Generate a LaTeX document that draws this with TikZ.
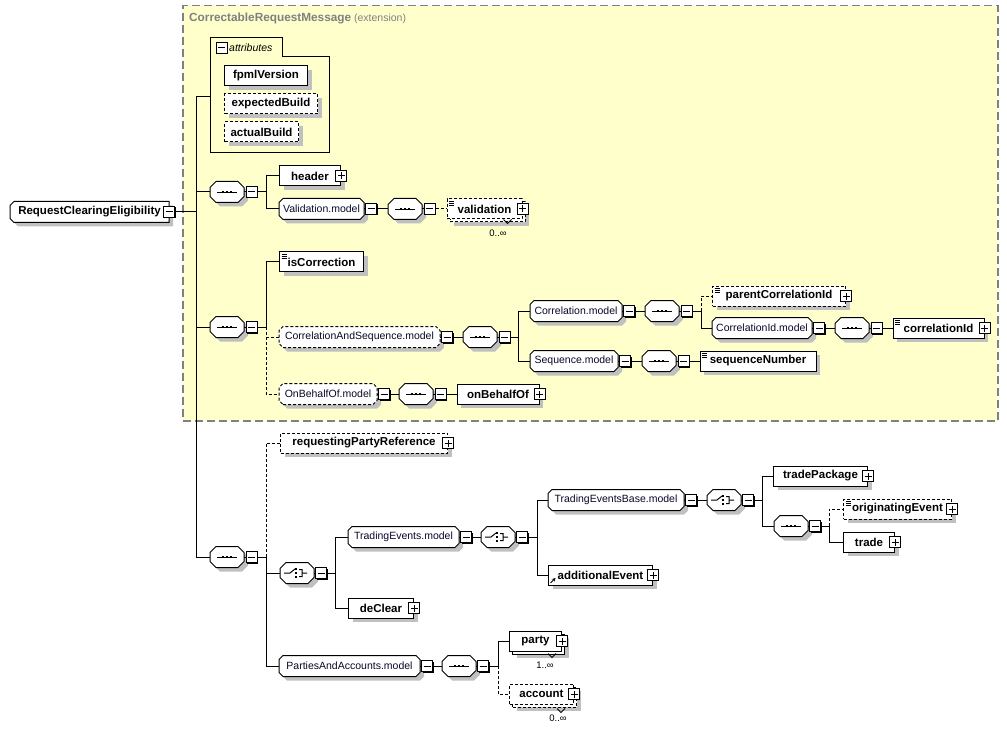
\documentclass[tikz,border=0pt]{standalone}
\usepackage{fontspec}
\setmainfont{Liberation Sans}
\usetikzlibrary{arrows.meta, positioning, calc, shadows, backgrounds}

\definecolor{extfill}{RGB}{255,255,204}
\definecolor{extline}{RGB}{128,128,128}
\definecolor{shadegray}{RGB}{192,192,192}
\definecolor{modeltext}{RGB}{8,8,40}

% octagon with cut corners, for model groups and compositors
\makeatletter
\pgfkeys{/pgf/chamfer left/.initial=4pt, /pgf/chamfer right/.initial=4pt}
\pgfdeclareshape{xsdgroup}{%
  \inheritsavedanchors[from=rectangle]%
  \inheritanchorborder[from=rectangle]%
  \inheritanchor[from=rectangle]{center}%
  \inheritanchor[from=rectangle]{north}%
  \inheritanchor[from=rectangle]{south}%
  \inheritanchor[from=rectangle]{east}%
  \inheritanchor[from=rectangle]{west}%
  \inheritanchor[from=rectangle]{north east}%
  \inheritanchor[from=rectangle]{north west}%
  \inheritanchor[from=rectangle]{south east}%
  \inheritanchor[from=rectangle]{south west}%
  \backgroundpath{%
    \pgfmathsetlengthmacro\xsd@cl{\pgfkeysvalueof{/pgf/chamfer left}}%
    \pgfmathsetlengthmacro\xsd@cr{\pgfkeysvalueof{/pgf/chamfer right}}%
    \southwest \pgf@xa=\pgf@x \pgf@ya=\pgf@y
    \northeast \pgf@xb=\pgf@x \pgf@yb=\pgf@y
    \pgfpathmoveto{\pgfqpoint{\dimexpr\pgf@xa+\xsd@cl\relax}{\pgf@ya}}%
    \pgfpathlineto{\pgfqpoint{\dimexpr\pgf@xb-\xsd@cr\relax}{\pgf@ya}}%
    \pgfpathlineto{\pgfqpoint{\pgf@xb}{\dimexpr\pgf@ya+\xsd@cr\relax}}%
    \pgfpathlineto{\pgfqpoint{\pgf@xb}{\dimexpr\pgf@yb-\xsd@cr\relax}}%
    \pgfpathlineto{\pgfqpoint{\dimexpr\pgf@xb-\xsd@cr\relax}{\pgf@yb}}%
    \pgfpathlineto{\pgfqpoint{\dimexpr\pgf@xa+\xsd@cl\relax}{\pgf@yb}}%
    \pgfpathlineto{\pgfqpoint{\pgf@xa}{\dimexpr\pgf@yb-\xsd@cl\relax}}%
    \pgfpathlineto{\pgfqpoint{\pgf@xa}{\dimexpr\pgf@ya+\xsd@cl\relax}}%
    \pgfpathclose
  }%
}
\makeatother

\begin{document}
\begin{tikzpicture}[x=1pt, y=-1pt,
        conn/.style={line width=1pt},
        optl/.style={dash pattern=on 3pt off 2pt},
        shd/.style={drop shadow={shadow xshift=4pt, shadow yshift=-4pt, fill=shadegray, opacity=1}},
        elembox/.style={
            rectangle, draw, fill=white, line width=1pt, minimum height=20pt,
            inner sep=3pt, font=\fontsize{11.5}{14}\selectfont\bfseries
        },
        elem/.style={elembox, shd},
        multi/.style={elembox,
            drop shadow={shadow xshift=7pt, shadow yshift=-7pt, fill=shadegray, opacity=1},
            general shadow={shadow xshift=3pt, shadow yshift=-3pt, fill=white, draw=black}},
        model/.style={
            shape=xsdgroup, chamfer left=4pt, chamfer right=4pt, draw, fill=white,
            line width=1pt, minimum height=20pt, inner sep=2pt, text=modeltext,
            font=\fontsize{10.5}{13}\selectfont, shd
        },
        comp/.style={
            shape=xsdgroup, chamfer left=6pt, chamfer right=6pt, draw, fill=white,
            line width=1pt, minimum width=33pt, minimum height=20pt, inner sep=0pt, shd
        },
        seqc/.style={comp, path picture={
            \draw[solid, line width=0.9pt] ([xshift=-10pt]path picture bounding box.center)
                -- ([xshift=10pt]path picture bounding box.center);
            \foreach \d in {-4,0,4}
                \fill[black] ([xshift=\d pt]path picture bounding box.center) +(-1.1pt,-1.3pt) rectangle +(1.1pt,1.3pt);}},
        choicec/.style={comp, path picture={
            \draw[solid, line width=1pt] ([xshift=-13pt]path picture bounding box.center)
                -- ([xshift=-7pt]path picture bounding box.center)
                -- ([shift={(-2pt,4pt)}]path picture bounding box.center)
                ([shift={(2pt,3.5pt)}]path picture bounding box.center)
                -- ([shift={(5pt,3.5pt)}]path picture bounding box.center)
                -- ([shift={(5pt,-3.5pt)}]path picture bounding box.center)
                -- ([shift={(2pt,-3.5pt)}]path picture bounding box.center)
                ([xshift=5pt]path picture bounding box.center) -- ([xshift=10pt]path picture bounding box.center);
            \foreach \d in {-4,0,4}
                \fill[black] ([shift={(-1pt,\d pt)}]path picture bounding box.center) +(-1.3pt,-1.1pt) rectangle +(1.3pt,1.1pt);}},
        pmbox/.style={rectangle, draw, fill=white, solid, line width=1pt, minimum size=11pt, inner sep=0pt},
        minussign/.style={pmbox, path picture={\draw[line width=1pt]
            ([xshift=-3.5pt]path picture bounding box.center) -- ([xshift=3.5pt]path picture bounding box.center);}},
        minusbox/.style={minussign, drop shadow={shadow xshift=1pt, shadow yshift=-1pt, fill=black, opacity=1}},
        plusbox/.style={pmbox, path picture={\draw[line width=1pt]
            ([xshift=-3.5pt]path picture bounding box.center) -- ([xshift=3.5pt]path picture bounding box.center)
            ([yshift=-3.5pt]path picture bounding box.center) -- ([yshift=3.5pt]path picture bounding box.center);}},
        simplec/.style={path picture={\foreach \k in {2,4,6}
            \draw[solid, line width=0.8pt] ([shift={(2pt,-\k pt)}]path picture bounding box.north west) -- ++(5pt,0pt);}},
        refel/.style={path picture={\draw[solid, line width=1pt, -{Stealth[length=3.5pt, width=3.5pt]}]
            ([shift={(2pt,2pt)}]path picture bounding box.south west) -- ++(5pt,5pt);}},
        card/.style={inner sep=0pt, font=\fontsize{9.5}{11}\selectfont},
        extbox/.style={rectangle, draw=extline, fill=extfill, line width=1.5pt, dash pattern=on 8pt off 4pt}
    ]
    \useasboundingbox (0,0) rectangle (1007,730);

    % === extension area ===
    \begin{scope}[on background layer]
        \node[extbox, anchor=north west, minimum width=815pt, minimum height=415pt] (ext) at (182,5) {};
    \end{scope}
    \node[anchor=west, inner sep=0pt, text=extline, font=\fontsize{10.5}{13}\selectfont] (exttitle) at (189,18)
        {{\fontsize{11.8}{13}\selectfont\bfseries CorrectableRequestMessage} (extension)};

    % === root ===
    \node[model, chamfer right=0pt, text=black, font=\fontsize{11.5}{14}\selectfont\bfseries,
        anchor=west, minimum width=158pt] (root) at (10,212) {RequestClearingEligibility};
    \node[minusbox] (rootm) at (root.east) {};
    \coordinate (trunk) at ($(rootm.east)+(21,0)$);

    % === attributes ===
    \draw[line width=1pt] (210,38) -| (282,57) -| (329,153) -| (210,38) -- cycle;
    \node[minussign] (attrm) at (221.5,48) {};
    \node[anchor=west, inner sep=0pt, font=\fontsize{10.5}{13}\selectfont\itshape] (attrlbl) at (229,48) {attributes};
    \coordinate (attrs) at (210,97);
    \node[elem, anchor=west, minimum width=83pt] (fpml) at (224,76) {fpmlVersion};
    \node[elem, optl, anchor=west, minimum width=93pt] (expb) at (224,104) {expectedBuild};
    \node[elem, optl, anchor=west, minimum width=74pt] (actb) at (224,132) {actualBuild};

    % === sequence 1: header, validation ===
    \node[seqc, anchor=west] (sqA) at (210,192) {};
    \node[minusbox, right=1.5pt of sqA] (sqAm) {};
    \coordinate (ba) at ($(sqAm.east)+(8.5,0)$);
    \node[elem, anchor=west, minimum width=61pt] (header) at (279,176) {header};
    \node[plusbox] (headerp) at (header.east) {};
    \node[model, anchor=west, minimum width=84pt] (valmod) at (279,209) {Validation.model};
    \node[minusbox, right=1pt of valmod] (valmodm) {};
    \node[seqc, right=11pt of valmodm] (sqB) {};
    \node[minusbox, right=1.5pt of sqB] (sqBm) {};
    \node[multi, optl, simplec, right=11pt of sqBm, minimum width=75pt] (valid) {validation};
    \node[plusbox] (validp) at (valid.east) {};
    \node[card] (validc) at (498,233) {0..∞};

    % === sequence 2: correction, correlation, onBehalfOf ===
    \node[seqc, anchor=west] (sqC) at (210,327) {};
    \node[minusbox, right=1.5pt of sqC] (sqCm) {};
    \coordinate (bc) at ($(sqCm.east)+(8.5,0)$);
    \node[elem, simplec, anchor=west, minimum width=84pt] (iscorr) at (279,262) {isCorrection};
    \node[model, optl, anchor=west, minimum width=160pt] (casmod) at (279,337) {CorrelationAndSequence.model};
    \node[minusbox, right=1pt of casmod] (casmodm) {};
    \node[seqc, right=10pt of casmodm] (sqD) {};
    \node[minusbox, right=1.5pt of sqD] (sqDm) {};
    \coordinate (bd) at ($(sqDm.east)+(8,0)$);
    \node[model, anchor=west, minimum width=91pt] (corrmod) at (530,311) {Correlation.model};
    \node[minusbox, right=1pt of corrmod] (corrmodm) {};
    \node[seqc, right=10pt of corrmodm] (sqE) {};
    \node[minusbox, right=1.5pt of sqE] (sqEm) {};
    \coordinate (be) at ($(sqEm.east)+(8.5,0)$);
    \node[elem, optl, simplec, anchor=west, minimum width=133pt] (parent) at (712,296) {parentCorrelationId};
    \node[plusbox] (parentp) at (parent.east) {};
    \node[model, anchor=west, minimum width=99pt] (cidmod) at (712,328) {CorrelationId.model};
    \node[minusbox, right=1pt of cidmod] (cidmodm) {};
    \node[seqc, right=10pt of cidmodm] (sqF) {};
    \node[minusbox, right=1.5pt of sqF] (sqFm) {};
    \node[elem, simplec, right=10pt of sqFm, minimum width=91pt] (corrid) {correlationId};
    \node[plusbox] (corridp) at (corrid.east) {};
    \node[model, anchor=west, minimum width=87pt] (seqmod) at (530,361) {Sequence.model};
    \node[minusbox, right=1pt of seqmod] (seqmodm) {};
    \node[seqc, right=11pt of seqmodm] (sqG) {};
    \node[minusbox, right=1.5pt of sqG] (sqGm) {};
    \node[elem, simplec, right=10pt of sqGm, minimum width=116pt] (seqnum) {sequenceNumber};
    \node[model, optl, anchor=west, minimum width=97pt] (obomod) at (279,394) {OnBehalfOf.model};
    \node[minusbox, right=1pt of obomod] (obomodm) {};
    \node[seqc, right=9pt of obomodm] (sqH) {};
    \node[minusbox, right=1.5pt of sqH] (sqHm) {};
    \node[elem, right=10pt of sqHm, minimum width=82pt] (obo) {onBehalfOf};
    \node[plusbox] (obop) at (obo.east) {};

    % === sequence 3: party reference, events, parties ===
    \node[seqc, anchor=west] (sqI) at (210,557) {};
    \node[minusbox, right=1.5pt of sqI] (sqIm) {};
    \coordinate (bi) at ($(sqIm.east)+(8.5,0)$);
    \node[elem, optl, anchor=west, minimum width=167pt] (reqparty) at (280,443) {requestingPartyReference};
    \node[plusbox] (reqpartyp) at (reqparty.east) {};
    \node[choicec, anchor=west] (chA) at (280,573) {};
    \node[minusbox, right=1pt of chA] (chAm) {};
    \coordinate (bj) at ($(chAm.east)+(8,0)$);
    \node[model, anchor=west, minimum width=110pt] (temod) at (348,537) {TradingEvents.model};
    \node[minusbox, right=1pt of temod] (temodm) {};
    \node[choicec, right=9pt of temodm] (chB) {};
    \node[minusbox, right=1pt of chB] (chBm) {};
    \coordinate (bk) at ($(chBm.east)+(9,0)$);
    \node[model, anchor=west, minimum width=135pt] (tebmod) at (548,500) {TradingEventsBase.model};
    \node[minusbox, right=1pt of tebmod] (tebmodm) {};
    \node[choicec, right=10pt of tebmodm] (chC) {};
    \node[minusbox, right=1pt of chC] (chCm) {};
    \coordinate (bl) at ($(chCm.east)+(8,0)$);
    \node[elem, anchor=west, minimum width=94pt] (tradepkg) at (773,476) {tradePackage};
    \node[plusbox] (tradepkgp) at (tradepkg.east) {};
    \node[seqc, anchor=west] (sqJ) at (774,526) {};
    \node[minusbox, right=1pt of sqJ] (sqJm) {};
    \coordinate (bm) at ($(sqJm.east)+(8,0)$);
    \node[elem, optl, simplec, anchor=west, minimum width=108pt] (origev) at (843,509) {originatingEvent};
    \node[plusbox] (origevp) at (origev.east) {};
    \node[elem, anchor=west, minimum width=51pt] (trade) at (843,542) {trade};
    \node[plusbox] (tradep) at (trade.east) {};
    \node[elem, refel, anchor=west, minimum width=104pt] (addev) at (548,575) {additionalEvent};
    \node[plusbox] (addevp) at (addev.east) {};
    \node[elem, anchor=west, minimum width=65pt] (declear) at (348,608) {deClear};
    \node[plusbox] (declearp) at (declear.east) {};
    \node[model, anchor=west, minimum width=140pt] (pamod) at (279,666) {PartiesAndAccounts.model};
    \node[minusbox, right=1pt of pamod] (pamodm) {};
    \node[seqc, right=9pt of pamodm] (sqK) {};
    \node[minusbox, right=1pt of sqK] (sqKm) {};
    \coordinate (bn) at ($(sqKm.east)+(9,0)$);
    \node[multi, anchor=west, minimum width=52pt] (party) at (509,641) {party};
    \node[plusbox] (partyp) at (party.east) {};
    \node[card] (partyc) at (545,665) {1..∞};
    \node[multi, optl, anchor=west, minimum width=64pt] (account) at (509,694) {account};
    \node[plusbox] (accountp) at (account.east) {};
    \node[card] (accountc) at (558,718) {0..∞};

    % === occurrence notches ===
    \draw[line width=0.8pt] ([shift={(-19pt,0pt)}]valid.south east) -- ++(4pt,-4pt) -- ++(4pt,4pt);
    \draw[line width=0.8pt] ([shift={(-14pt,-2pt)}]party.south east) -- ++(4pt,-4pt) -- ++(4pt,4pt);
    \draw[line width=0.8pt] ([shift={(-17pt,-4pt)}]account.south east) -- ++(4pt,-4pt) -- ++(4pt,4pt);

    % === connectors: root and first sequence ===
    \draw[conn] (rootm.east) -- (trunk);
    \draw[conn] (trunk) |- (attrs);
    \draw[conn] (trunk) |- (sqA.west);
    \draw[conn] (trunk) |- (sqC.west);
    \draw[conn] (trunk) |- (sqI.west);
    \draw[conn] (sqA.east) -- (sqAm.west);
    \draw[conn] (sqAm.east) -- (ba) |- (header.west);
    \draw[conn] (ba) |- (valmod.west);
    \draw[conn] (valmod.east) -- (valmodm.west);
    \draw[conn] (valmodm.east) -- (sqB.west);
    \draw[conn] (sqB.east) -- (sqBm.west);
    \draw[conn, optl] (sqBm.east) -- (valid.west);

    % === connectors: second sequence ===
    \draw[conn] (sqC.east) -- (sqCm.west);
    \draw[conn] (sqCm.east) -- (bc) |- (iscorr.west);
    \draw[conn, optl] (bc) |- (casmod.west);
    \draw[conn, optl] (bc) |- (obomod.west);
    \draw[conn] (casmod.east) -- (casmodm.west);
    \draw[conn] (casmodm.east) -- (sqD.west);
    \draw[conn] (sqD.east) -- (sqDm.west);
    \draw[conn] (sqDm.east) -- (bd) |- (corrmod.west);
    \draw[conn] (bd) |- (seqmod.west);
    \draw[conn] (corrmod.east) -- (corrmodm.west);
    \draw[conn] (corrmodm.east) -- (sqE.west);
    \draw[conn] (sqE.east) -- (sqEm.west);
    \draw[conn] (sqEm.east) -- (be) |- (cidmod.west);
    \draw[conn, optl] (be) |- (parent.west);
    \draw[conn] (cidmod.east) -- (cidmodm.west);
    \draw[conn] (cidmodm.east) -- (sqF.west);
    \draw[conn] (sqF.east) -- (sqFm.west);
    \draw[conn] (sqFm.east) -- (corrid.west);
    \draw[conn] (seqmod.east) -- (seqmodm.west);
    \draw[conn] (seqmodm.east) -- (sqG.west);
    \draw[conn] (sqG.east) -- (sqGm.west);
    \draw[conn] (sqGm.east) -- (seqnum.west);
    \draw[conn] (obomod.east) -- (obomodm.west);
    \draw[conn] (obomodm.east) -- (sqH.west);
    \draw[conn] (sqH.east) -- (sqHm.west);
    \draw[conn] (sqHm.east) -- (obo.west);

    % === connectors: third sequence ===
    \draw[conn] (sqI.east) -- (sqIm.west);
    \draw[conn] (sqIm.east) -- (bi) |- (chA.west);
    \draw[conn] (bi) |- (pamod.west);
    \draw[conn, optl] (bi) |- (reqparty.west);
    \draw[conn] (chA.east) -- (chAm.west);
    \draw[conn] (chAm.east) -- (bj) |- (temod.west);
    \draw[conn] (bj) |- (declear.west);
    \draw[conn] (temod.east) -- (temodm.west);
    \draw[conn] (temodm.east) -- (chB.west);
    \draw[conn] (chB.east) -- (chBm.west);
    \draw[conn] (chBm.east) -- (bk) |- (tebmod.west);
    \draw[conn] (bk) |- (addev.west);
    \draw[conn] (tebmod.east) -- (tebmodm.west);
    \draw[conn] (tebmodm.east) -- (chC.west);
    \draw[conn] (chC.east) -- (chCm.west);
    \draw[conn] (chCm.east) -- (bl) |- (tradepkg.west);
    \draw[conn] (bl) |- (sqJ.west);
    \draw[conn] (sqJ.east) -- (sqJm.west);
    \draw[conn] (sqJm.east) -- (bm) |- (trade.west);
    \draw[conn, optl] (bm) |- (origev.west);
    \draw[conn] (pamod.east) -- (pamodm.west);
    \draw[conn] (pamodm.east) -- (sqK.west);
    \draw[conn] (sqK.east) -- (sqKm.west);
    \draw[conn] (sqKm.east) -- (bn) |- (party.west);
    \draw[conn, optl] (bn) |- (account.west);

\end{tikzpicture}
\end{document}
